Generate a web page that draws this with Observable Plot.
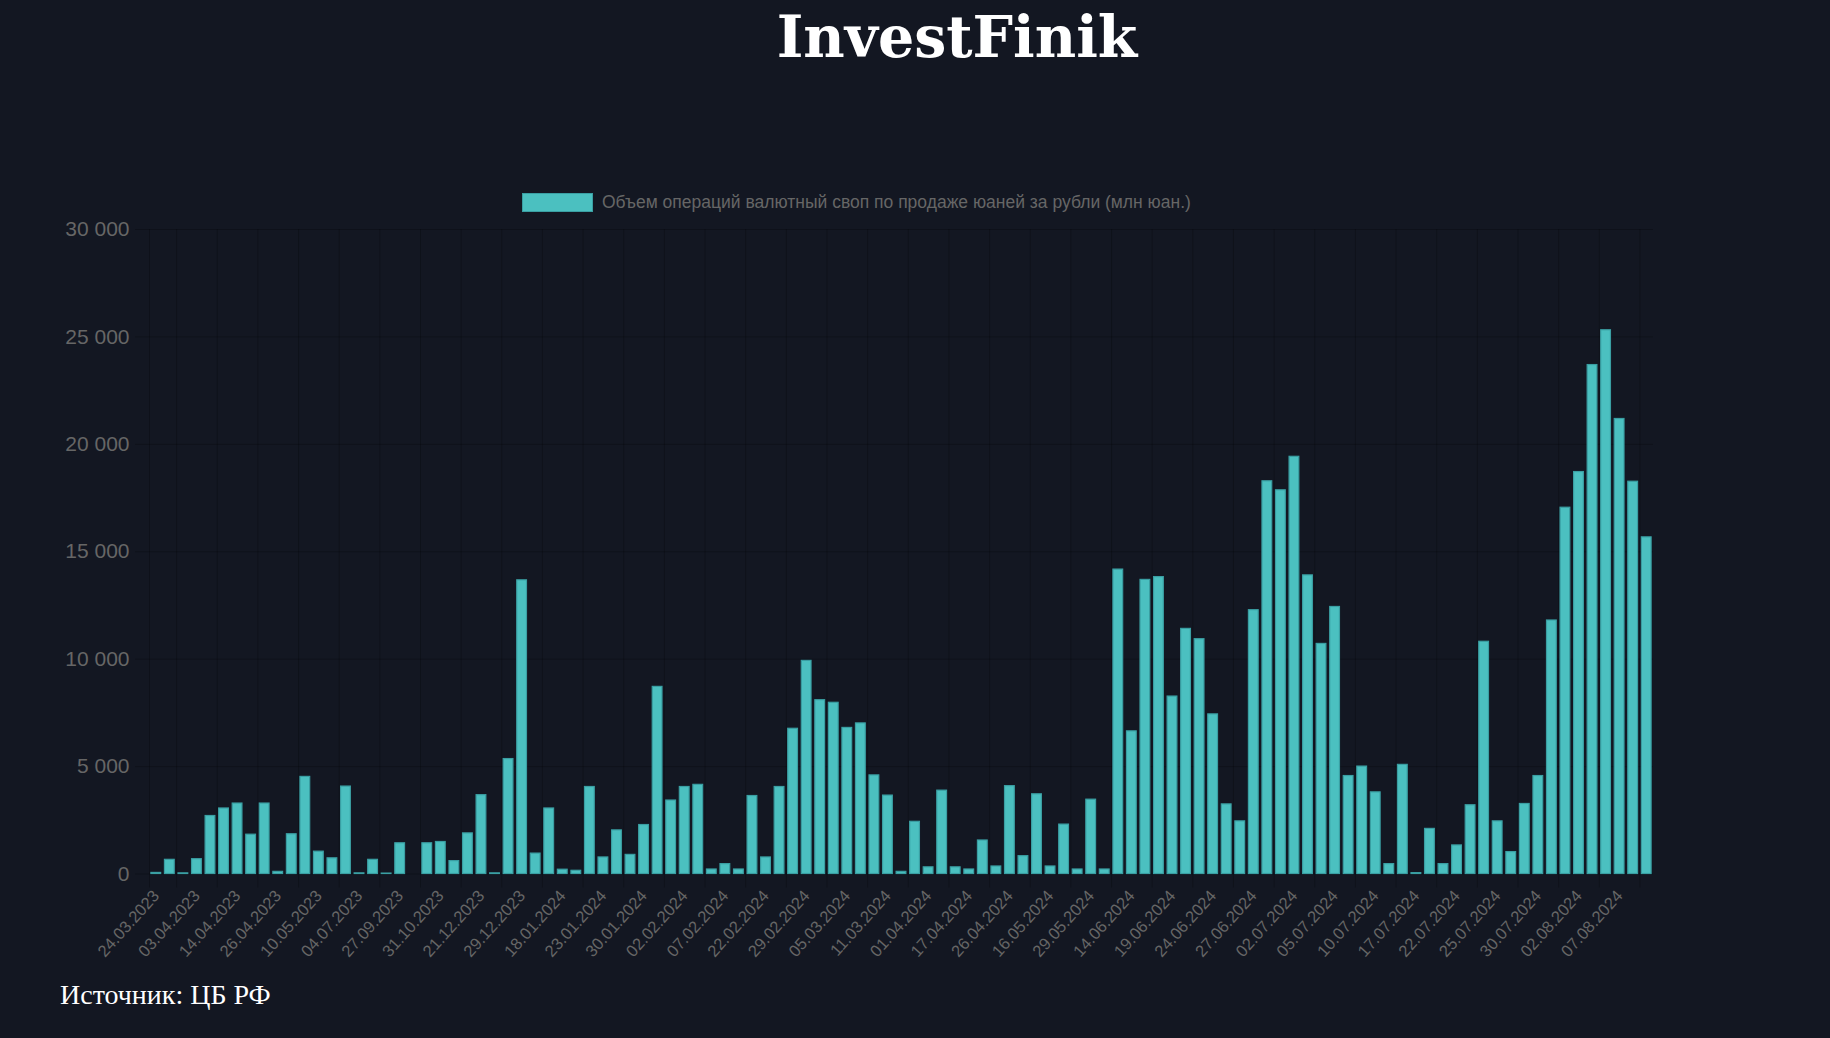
<!DOCTYPE html>
<html>
<head>
<meta charset="utf-8">
<script src="https://cdn.jsdelivr.net/npm/d3@7"></script>
<script src="https://cdn.jsdelivr.net/npm/@observablehq/plot@0.6"></script>
<style>
  html, body { margin: 0; padding: 0; background: #131722; }
  #wrap { position: relative; width: 1830px; height: 1038px; overflow: hidden; background: #131722; }
  #title { position: absolute; left: 707px; width: 500px; top: 8px; text-align: center;
           font-family: "DejaVu Serif", serif; font-weight: bold; font-size: 57px; line-height: 57px;
           color: #ffffff; letter-spacing: 0px; }
  #legend-swatch { position: absolute; left: 522px; top: 193px; width: 71px; height: 19px; box-sizing: border-box;
                   background: #4bc0c0; border: 1.5px solid #3a9fa3; }
  #legend-text { position: absolute; left: 602px; top: 193px; line-height: 18px; font-size: 17.5px;
                 font-family: "Liberation Sans", Arial, sans-serif; color: #666; white-space: nowrap; }
  #chart { position: absolute; left: 0; top: 210px; }
  #caption { position: absolute; left: 60px; top: 981px; font-family: "Liberation Serif", "Times New Roman", serif;
             font-size: 28px; line-height: 28px; color: #ffffff; white-space: nowrap; }
</style>
</head>
<body>
<div id="wrap">
  <div id="title">InvestFinik</div>
  <div id="legend-swatch"></div>
  <div id="legend-text">Объем операций валютный своп по продаже юаней за рубли (млн юан.)</div>
  <div id="chart"></div>
  <div id="caption">Источник: ЦБ РФ</div>
</div>
<script>
// Tick labels shown on the x axis (every third bar)
const tickLabels = [
  "24.03.2023","03.04.2023","14.04.2023","26.04.2023","10.05.2023","04.07.2023","27.09.2023",
  "31.10.2023","21.12.2023","29.12.2023","18.01.2024","23.01.2024","30.01.2024","02.02.2024",
  "07.02.2024","22.02.2024","29.02.2024","05.03.2024","11.03.2024","01.04.2024","17.04.2024",
  "26.04.2024","16.05.2024","29.05.2024","14.06.2024","19.06.2024","24.06.2024","27.06.2024",
  "02.07.2024","05.07.2024","10.07.2024","17.07.2024","22.07.2024","25.07.2024","30.07.2024",
  "02.08.2024","07.08.2024"
];

// Volume of FX swap operations selling CNY for RUB (mln CNY), one value per auction date
const values = [
  50, 660, 30, 690, 2700, 3050, 3280, 1830, 3280, 100, 1850, 4520, 1040, 730, 4070, 30,
  660, 20, 1430, 0, 1430, 1490, 600, 1890, 3670, 30, 5350, 13670, 950, 3050, 200, 150,
  4050, 770, 2030, 890, 2280, 8710, 3420, 4050, 4150, 210, 460, 210, 3630, 770, 4050,
  6760, 9920, 8090, 7970, 6800, 7010, 4590, 3650, 100, 2430, 310, 3880, 310, 210, 1560,
  350, 4090, 830, 3710, 350, 2300, 210, 3460, 210, 14170, 6640, 13690, 13820, 8260, 11410,
  10930, 7430, 3240, 2450, 12280, 18280, 17860, 19420, 13900, 10710, 12430, 4560, 5000,
  3800, 460, 5080, 40,
  2100, 460, 1330, 3200, 10810, 2450, 1020, 3260, 4560, 11800, 17050, 18710, 23690, 25310,
  21180, 18260, 15670
];

const yTicks = [0, 5000, 10000, 15000, 20000, 25000, 30000];

const rows = values.map((v, i) => ({i, v}));
const labelIdx = tickLabels.map((_, k) => k * 3);
const gridX = [-0.5, ...labelIdx.map(i => i + 1.5)];
const half = 0.36;
const gridColor = "rgba(0,0,0,0.22)";
const fmt = d => d3.format(",")(d).replace(/,/g, " ");

const chart = Plot.plot({
  width: 1830,
  height: 770,
  marginTop: 19,
  marginBottom: 106.5,
  marginLeft: 149,
  marginRight: 177,
  style: {background: "transparent", color: "#666", fontFamily: "'Liberation Sans', Arial, sans-serif"},
  x: {type: "linear", domain: [-0.5, values.length - 0.5]},
  y: {domain: [0, 30000]},
  marks: [
    Plot.ruleY(yTicks, {y: d => d, stroke: gridColor, strokeWidth: 1, insetLeft: -14}),
    Plot.ruleX(gridX, {x: d => d, stroke: gridColor, strokeWidth: 1, insetBottom: -14}),
    Plot.rect(rows, {x1: d => d.i - half, x2: d => d.i + half, y1: 0, y2: "v",
                     fill: "#4bc0c0", stroke: "#3a9fa3", strokeWidth: 1.2}),
    Plot.axisY({ticks: yTicks, tickFormat: fmt, tickSize: 0, tickPadding: 20, fontSize: 21,
                fill: "#666", label: null}),
    Plot.axisX({ticks: labelIdx, tickFormat: i => tickLabels[i / 3], tickSize: 0, tickPadding: 19,
                tickRotate: -48, fontSize: 16.5, fill: "#666", label: null})
  ]
});
document.getElementById("chart").appendChild(chart);
</script>
</body>
</html>
